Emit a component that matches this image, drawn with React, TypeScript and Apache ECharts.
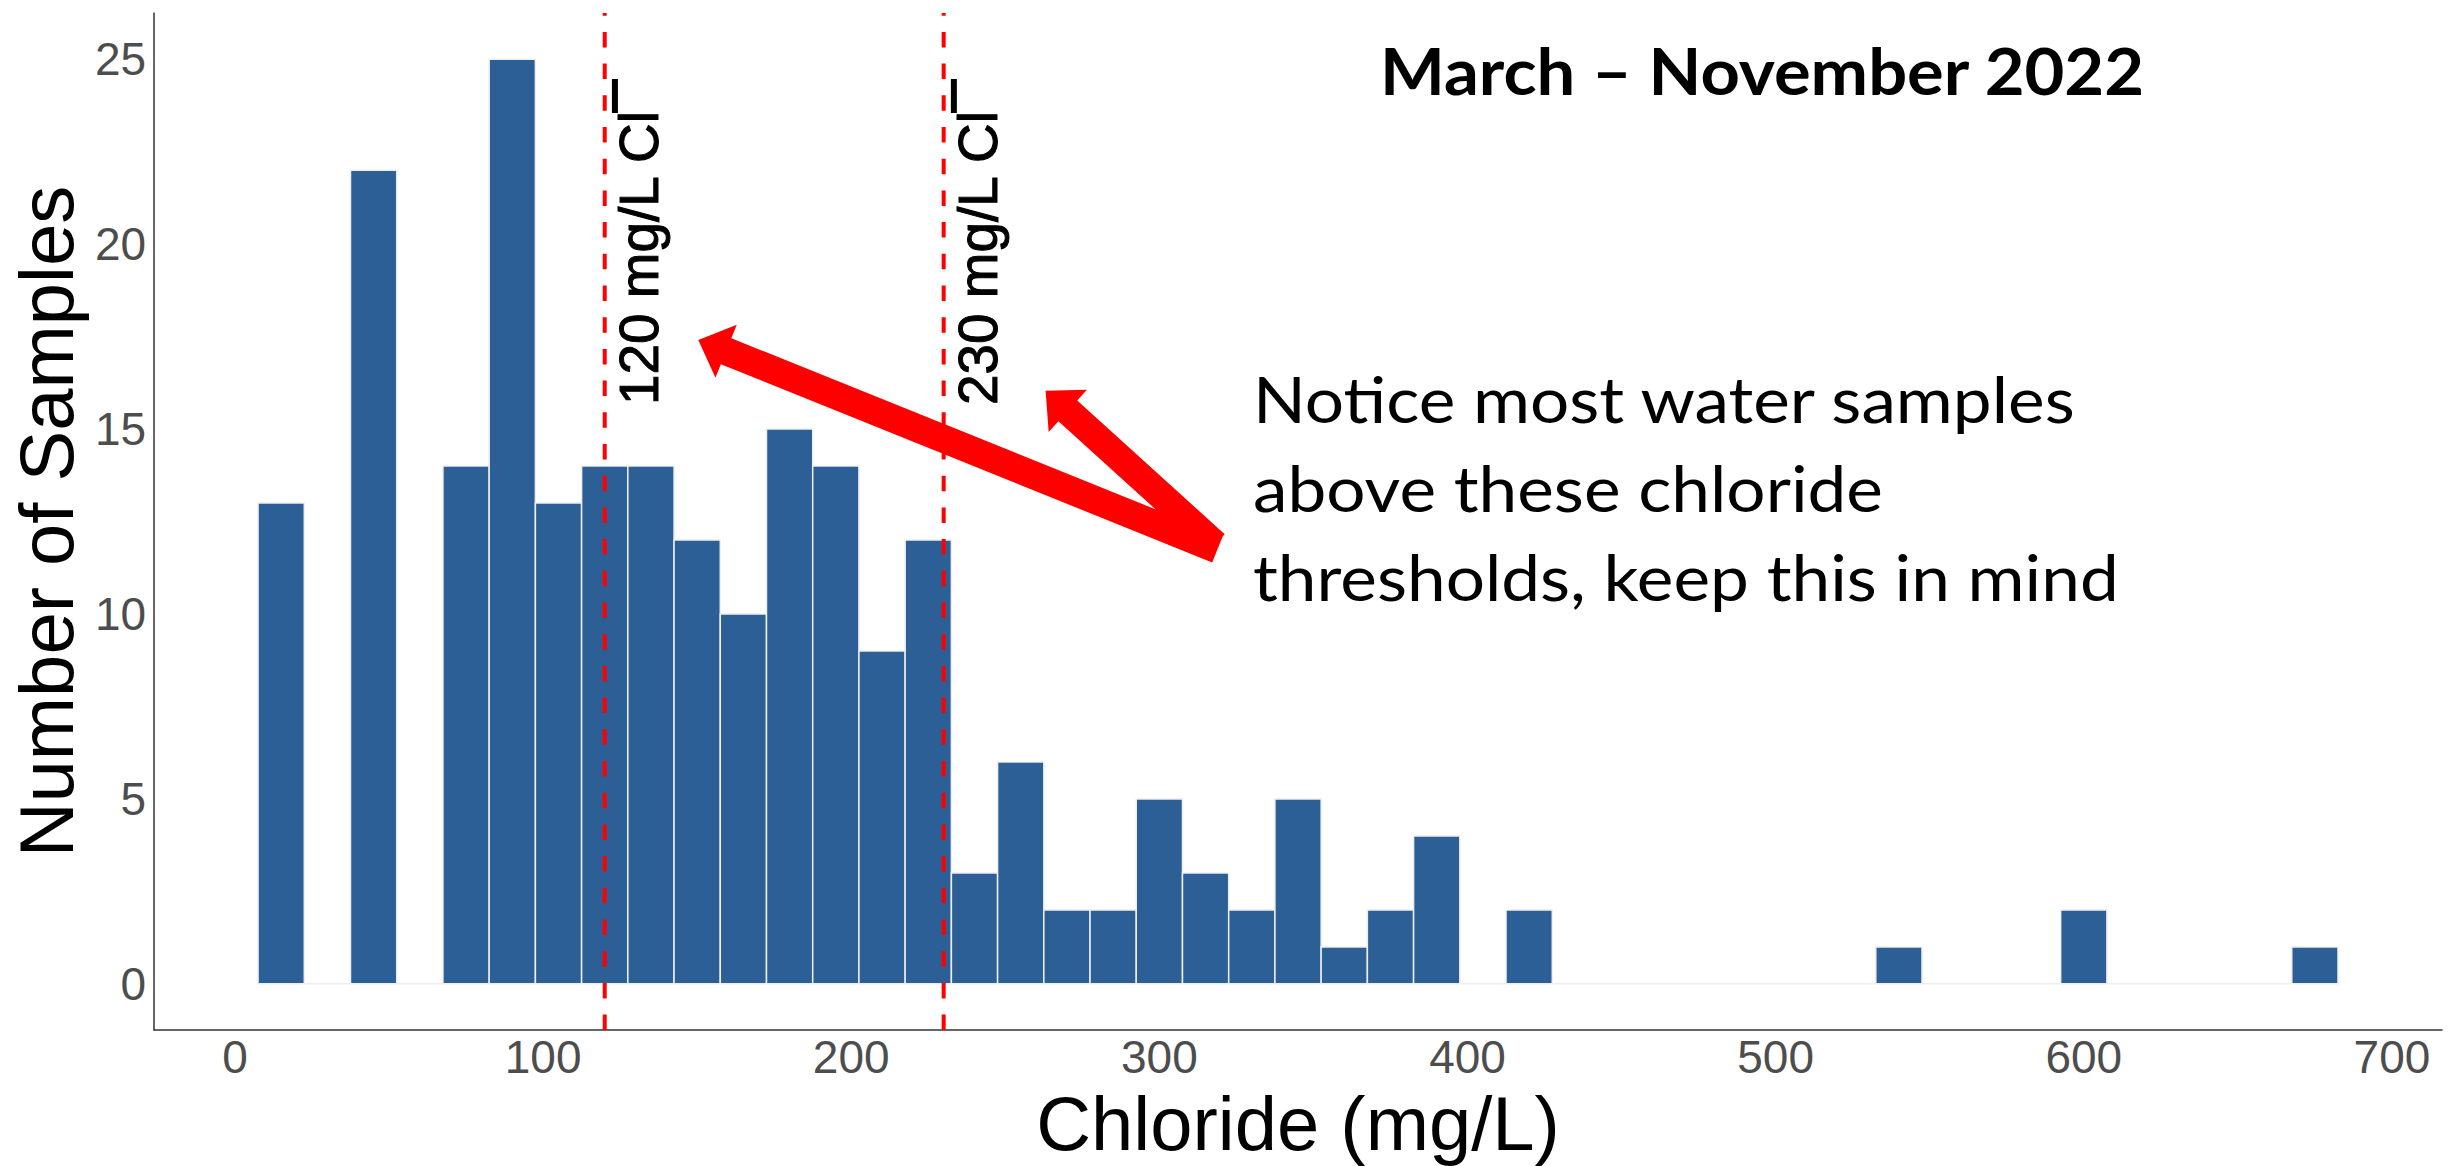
import React, { useEffect, useRef } from "react";
import * as echarts from "echarts";

// ---- data ----
const BIN_CENTERS = [
  15, 30, 45, 60, 75, 90, 105, 120, 135, 150, 165, 180, 195, 210, 225, 240, 255, 270, 285, 300,
  315, 330, 345, 360, 375, 390, 405, 420, 435, 450, 465, 480, 495, 510, 525, 540, 555, 570, 585,
  600, 615, 630, 645, 660, 675,
];
const COUNTS = [
  13, 0, 22, 0, 14, 25, 13, 14, 14, 12, 10, 15, 14, 9, 12, 3, 6, 2, 2, 5,
  3, 2, 5, 1, 2, 4, 0, 2, 0, 0, 0, 0, 0, 0, 0, 1, 0, 0, 0,
  2, 0, 0, 0, 0, 1,
];
const BIN_WIDTH = 15;
const THRESHOLDS = [120, 230];
const THRESHOLD_LABELS = ["120 mg/L Cl", "230 mg/L Cl"];
const X_TICKS = [0, 100, 200, 300, 400, 500, 600, 700];
const Y_TICKS = [0, 5, 10, 15, 20, 25];
const X_TITLE = "Chloride (mg/L)";
const Y_TITLE = "Number of Samples";
const TITLE = "March \u2013 November 2022";
const NOTE_LINES = [
  "Notice most water samples",
  "above these chloride",
  "thresholds, keep this in mind",
];

const BAR_COLOR = "#2b5f95";
const BAR_BORDER = "#eeeeee";
const RED = "#ff0000";
const GG_FONT = "Liberation Sans";
const SLIDE_FONT = "Lato";

function measure(text: string, font: string): number {
  const c = document.createElement("canvas").getContext("2d")!;
  c.font = font;
  return c.measureText(text).width;
}

function arrowPoints(
  tip: number[],
  tail: number[],
  shaftW: number,
  headLen: number,
  headW: number
): number[][] {
  const dx = tail[0] - tip[0];
  const dy = tail[1] - tip[1];
  const len = Math.sqrt(dx * dx + dy * dy);
  const ux = dx / len;
  const uy = dy / len;
  const px = -uy;
  const py = ux;
  const bx = tip[0] + ux * headLen;
  const by = tip[1] + uy * headLen;
  const hs = shaftW / 2;
  const hh = headW / 2;
  return [
    tip,
    [bx + px * hh, by + py * hh],
    [bx + px * hs, by + py * hs],
    [tail[0] + px * hs, tail[1] + py * hs],
    [tail[0] - px * hs, tail[1] - py * hs],
    [bx - px * hs, by - py * hs],
    [bx - px * hh, by - py * hh],
  ];
}

export default function App() {
  const ref = useRef<HTMLDivElement>(null);

  useEffect(() => {
    const chart = echarts.init(ref.current!, null, { renderer: "svg" });

    const histData = BIN_CENTERS.map((c, i) => [c - BIN_WIDTH / 2, c + BIN_WIDTH / 2, COUNTS[i]]);
    const yMin = -1.25;
    const yMax = 26.25;

    const option: any = {
      animation: false,
      backgroundColor: "#ffffff",
      grid: { left: 153, top: 13, width: 2289, height: 1022, containLabel: false },
      xAxis: {
        type: "value",
        min: -26.25,
        max: 716.25,
        name: X_TITLE,
        nameLocation: "middle",
        nameGap: 50,
        nameTextStyle: { fontSize: 76, fontFamily: GG_FONT, color: "#000" },
        axisLine: { show: true, onZero: false, lineStyle: { color: "#333333", width: 1.5 } },
        axisTick: { show: false },
        splitLine: { show: false },
        axisLabel: {
          customValues: X_TICKS,
          fontSize: 46,
          fontFamily: GG_FONT,
          color: "#4d4d4d",
          margin: 4,
        },
      },
      yAxis: {
        type: "value",
        min: yMin,
        max: yMax,
        name: Y_TITLE,
        nameLocation: "middle",
        nameRotate: 90,
        nameGap: 68,
        nameTextStyle: { fontSize: 76, fontFamily: GG_FONT, color: "#000" },
        axisLine: { show: true, onZero: false, lineStyle: { color: "#333333", width: 1.5 } },
        axisTick: { show: false },
        splitLine: { show: false },
        axisLabel: {
          customValues: Y_TICKS,
          fontSize: 46,
          fontFamily: GG_FONT,
          color: "#4d4d4d",
          margin: 8,
        },
      },
      series: [
        {
          type: "custom",
          z: 2,
          silent: true,
          data: histData,
          encode: { x: [0, 1], y: 2 },
          renderItem: (_params: any, api: any) => {
            const lo = api.value(0);
            const hi = api.value(1);
            const c = api.value(2);
            const p0 = api.coord([lo, c]);
            const p1 = api.coord([hi, 0]);
            return {
              type: "rect",
              shape: { x: p0[0], y: p0[1], width: p1[0] - p0[0], height: p1[1] - p0[1] },
              style: { fill: BAR_COLOR, stroke: BAR_BORDER, lineWidth: 1.5 },
            };
          },
        },
        ...THRESHOLDS.map((t) => ({
          type: "line",
          z: 3,
          silent: true,
          showSymbol: false,
          symbol: "none",
          data: [
            [t, yMin],
            [t, yMax],
          ],
          lineStyle: { color: RED, width: 4, type: [15.5, 16.2] },
        })),
      ],
    };
    chart.setOption(option);

    // ---- annotations ----
    const elements: any[] = [];

    // threshold labels
    const labelSize = 56;
    const labelFont = `${labelSize}px "${GG_FONT}"`;
    const labelStartY = 405;
    const labelTargetLen = 296;
    THRESHOLDS.forEach((t, i) => {
      const px = chart.convertToPixel({ xAxisIndex: 0 }, t) as number;
      const w = measure(THRESHOLD_LABELS[i], labelFont);
      const s = labelTargetLen / w;
      elements.push({
        type: "text",
        z: 10,
        x: px + 34,
        y: labelStartY,
        rotation: Math.PI / 2,
        scaleX: s,
        scaleY: 1,
        style: {
          text: THRESHOLD_LABELS[i],
          fontSize: labelSize,
          fontFamily: GG_FONT,
          fill: "#000",
          stroke: "#000",
          lineWidth: 1,
          align: "left",
          verticalAlign: "middle",
        },
      });
      // superscript minus
      elements.push({
        type: "rect",
        z: 10,
        shape: { x: px + 7.2, y: 79, width: 6, height: 34 },
        style: { fill: "#000" },
      });
    });

    // title
    const titleSize = 65;
    const tW = measure(TITLE, `bold ${titleSize}px ${SLIDE_FONT}`);
    elements.push({
      type: "text",
      z: 10,
      x: 1762,
      y: 94.5 - 0.387 * titleSize,
      scaleX: 766 / tW,
      style: {
        text: TITLE,
        fontSize: titleSize,
        fontWeight: "bold",
        fontFamily: SLIDE_FONT,
        fill: "#000",
        align: "center",
        verticalAlign: "middle",
      },
    });

    // note text
    const noteSize = 63.6;
    const noteFont = `${noteSize}px ${SLIDE_FONT}`;
    const m1 = measure(NOTE_LINES[0], noteFont);
    const m3 = measure(NOTE_LINES[2], noteFont);
    const sN = (821 / m1 + 870 / m3) / 2;
    const baselines = [423, 512, 601];
    NOTE_LINES.forEach((line, i) => {
      elements.push({
        type: "text",
        z: 10,
        x: 1253,
        y: baselines[i] - 0.387 * noteSize,
        scaleX: sN,
        style: {
          text: line,
          fontSize: noteSize,
          fontFamily: SLIDE_FONT,
          fill: "#000",
          align: "left",
          verticalAlign: "middle",
        },
      });
    });

    // arrows
    const arrows = [
      { tip: [698.3, 340], tail: [1217.4, 549.4] },
      { tip: [1045.6, 390.7], tail: [1215.3, 544.6] },
    ];
    arrows.forEach((a) => {
      elements.push({
        type: "polygon",
        z: 11,
        shape: { points: arrowPoints(a.tip, a.tail, 28, 30, 57) },
        style: { fill: RED },
      });
    });

    chart.setOption({ graphic: { elements } });

    return () => chart.dispose();
  }, []);

  return (
    <div
      ref={ref}
      style={{ position: "fixed", left: 0, top: 0, width: 2459, height: 1166, background: "#fff" }}
    />
  );
}
